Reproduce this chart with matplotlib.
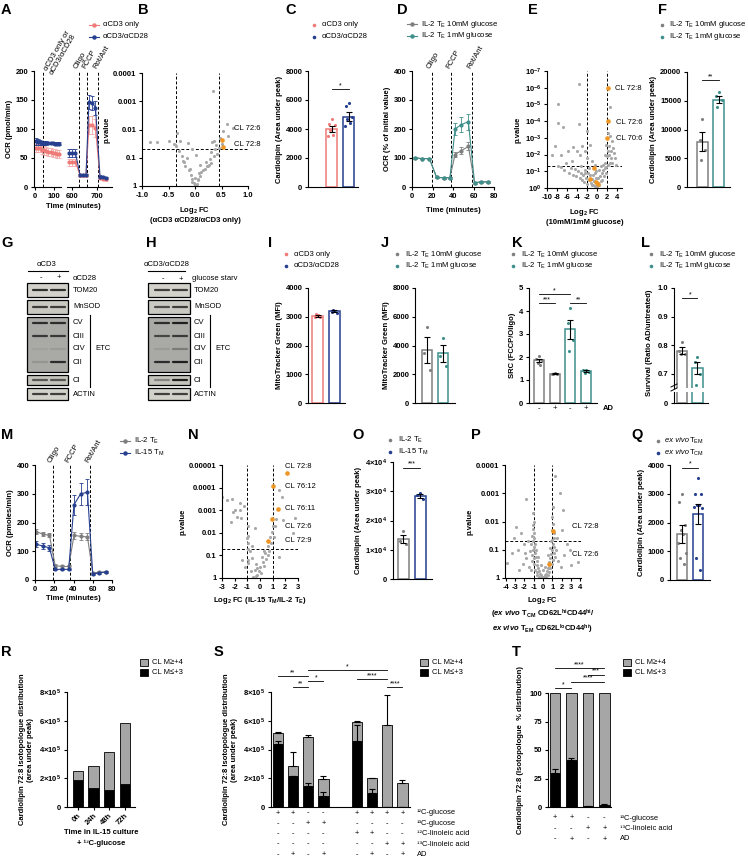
import numpy as np
import matplotlib
matplotlib.use("Agg")
import matplotlib.pyplot as plt
from matplotlib.patches import Rectangle
from matplotlib.ticker import NullLocator
from matplotlib.transforms import blended_transform_factory

W, H = 748, 859

RED = "#ee7b78"
NAVY = "#263f8f"
GREY = "#7f7f7f"
TEAL = "#3f8f8b"
LGREY = "#a8a8a8"
ORANGE = "#ef9523"
STACK = "#a6a6a6"

plt.rcParams.update({
    "font.family": ["Liberation Sans", "DejaVu Sans"],
    "font.weight": "bold",
    "font.size": 5.5,
    "mathtext.fontset": "custom",
    "mathtext.default": "regular",
    "mathtext.rm": "Liberation Sans",
    "mathtext.it": "Liberation Sans:italic:bold",
    "mathtext.bf": "Liberation Sans:bold",
    "axes.linewidth": 0.8,
    "xtick.major.width": 0.8, "ytick.major.width": 0.8,
    "xtick.major.size": 2.5, "ytick.major.size": 2.5,
    "xtick.major.pad": 1.5, "ytick.major.pad": 1.5,
    "xtick.labelsize": 5.5, "ytick.labelsize": 5.5,
    "axes.labelsize": 5.5, "axes.labelweight": "bold",
    "axes.labelpad": 2,
})

# ---------------- data ----------------
# A: Seahorse OCR, broken time axis
A_t1 = [5, 16, 27, 38, 49, 60, 71, 82, 93, 104, 115, 126]
A_red1 = [68, 68, 67, 64, 63, 62, 61, 60, 59, 58, 57, 57]
A_red1_err = [7, 7, 7, 7, 7, 7, 7, 7, 7, 7, 7, 7]
A_blue1 = [79, 78, 77, 76, 76, 76, 76, 76, 76, 75, 75, 75]
A_blue1_err = [6, 5, 4, 3, 3, 3, 2, 2, 2, 2, 2, 2]
A_t2 = [588, 601, 614, 632, 644, 656, 668, 681, 694, 712, 725, 738]
A_red2 = [43, 43, 43, 20, 20, 20, 107, 107, 102, 15, 14, 13]
A_red2_err = [6, 6, 6, 2, 2, 2, 16, 16, 16, 2, 2, 2]
A_blue2 = [58, 58, 58, 21, 21, 21, 147, 145, 137, 18, 17, 16]
A_blue2_err = [7, 7, 7, 2, 2, 2, 12, 12, 12, 2, 2, 2]

# B volcano (log2 FC, -log10 p)
B_fc = [0.34, -0.34, 0.6, 0.72, 0.53, 0.62, -0.72, -0.5, -0.28, -0.13, 0.02, -0.05, -0.15, 0.1,
        0.2, 0.3, 0.4, 0.45, 0.5, 0.35, 0.25, 0.15, -0.2, -0.25, -0.3, -0.1, 0.0, 0.05, -0.05,
        0.08, 0.12, 0.18, 0.22, 0.28, 0.3, 0.38, 0.42, -0.18, -0.22, -0.08, -0.02, 0.02, 0.06,
        -0.12, -0.35, -0.4, 0.33, 0.48, 0.26, 0.36, -0.85, 0.1, -0.06, 0.0, 0.04]
B_nlp = [3.36, 1.87, 2.2, 2.05, 1.94, 1.77, 1.56, 1.6, 1.6, 1.52, 1.1, 1.3, 1.0, 0.75,
         0.85, 1.2, 1.45, 1.35, 1.5, 1.05, 0.7, 0.55, 0.85, 1.05, 1.25, 0.6, 0.3, 0.2, 0.15,
         0.45, 0.5, 0.6, 0.7, 0.95, 0.8, 1.3, 1.15, 0.7, 0.9, 0.4, 0.1, 0.05, 0.25,
         0.55, 1.4, 1.5, 1.55, 1.7, 0.75, 1.6, 1.55, 0.35, 0.25, 0.02, 0.08]
B_cl_fc = [0.5, 0.52]
B_cl_nlp = [1.63, 1.38]

# C
C_mean = [4000, 4850]
C_sem = [180, 300]
C_red = [4700, 4350, 4300, 3900, 3600, 3500]
C_blue = [5800, 5600, 4800, 4700, 4400, 4200]

# D
D_t = [3, 10, 17, 24, 31, 37, 42, 48, 55, 61, 67, 74]
D_grey = [100, 98, 98, 33, 32, 32, 112, 125, 140, 15, 17, 18]
D_grey_err = [3, 3, 3, 3, 3, 3, 10, 12, 14, 3, 3, 3]
D_teal = [100, 98, 98, 33, 32, 32, 200, 215, 225, 15, 17, 18]
D_teal_err = [3, 3, 3, 3, 3, 3, 22, 25, 28, 3, 3, 3]

# E volcano
E_fc = [-3.6, -7.8, -7.8, -6.8, -3.6, -2.0, 2.6, 2.2, 2.6, 3.0, 3.2, 3.4, 2.8, 3.6, 1.8, 2.1,
        2.4, 1.9, 2.5, 3.0, 2.2, 1.6, 2.3, 2.7, 1.5, 3.8, -8.4, -9.0, -7.2, -5.8, -4.8, -4.0,
        -3.0, -2.5, -3.4, -2.1, -1.5, -1.0, -0.5, -6.3, -5.0, -7.9, -7.3, -6.6, -5.3, -4.4,
        -3.8, -3.2, -2.8, -2.5, -2.2, -1.9, -1.7, -1.5, -1.3, -1.1, -0.9, -0.8, -0.6, -0.4,
        -0.3, -0.1, 0.0, 0.2, 0.4, 0.5, 0.7, 0.9, 1.0, 1.2, 1.3, 1.5, 1.7, 1.8, -4.2, -3.5,
        -3.0, -2.6, -2.0, -1.0, -0.2, 0.3, 0.1, -0.5, -2.4, -1.6, -5.7, -4.8, -0.7, 0.8, 1.1,
        -3.3]
E_nlp = [6.2, 5.0, 3.9, 3.65, 3.8, 3.4, 4.85, 3.3, 3.1, 2.8, 2.4, 2.1, 1.8, 1.8, 2.6, 2.2,
         2.5, 1.9, 1.5, 1.5, 1.4, 1.5, 2.0, 2.2, 2.0, 1.4, 2.5, 2.0, 2.0, 2.2, 2.45, 2.2,
         2.5, 2.2, 2.0, 1.8, 2.6, 1.6, 1.4, 1.5, 1.6, 1.3, 1.25, 1.1, 1.2, 1.15,
         1.0, 0.9, 0.8, 1.1, 0.6, 0.9, 0.5, 0.75, 0.3, 0.55, 0.2, 0.8, 0.4, 0.1,
         0.6, 0.2, 0.05, 0.3, 0.15, 0.7, 0.4, 0.9, 0.5, 1.1, 0.7, 1.2, 0.9, 1.25, 0.7, 0.6,
         0.5, 0.35, 0.25, 0.15, 1.0, 1.1, 0.6, 0.9, 0.9, 1.2, 0.9, 0.8, 1.2, 1.3, 1.4,
         1.3]
E_cl_fc = [2.2, 2.2, 2.0, -0.6, -1.4, -0.2, 0.1]
E_cl_nlp = [6.0, 4.0, 3.0, 1.2, 0.55, 0.35, 0.25]

# F
F_mean = [7900, 15200]
F_sem = [1600, 600]
F_grey = [11800, 8200, 6500, 4700]
F_teal = [16500, 15800, 15200, 13900]

# G / H western blots: band intensity per lane (0 = none, 1 = black)
BLOT_ROWS = ["TOM20", "MnSOD", "CV", "CIII", "CIV", "CII", "CI", "ACTIN"]
G_band = [[0.85, 0.85], [0.8, 0.8], [0.85, 0.85], [0.8, 0.8], [0.25, 0.3], [0.35, 0.85], [0.7, 0.7], [0.8, 0.8]]
H_band = [[0.8, 0.8], [0.75, 0.8], [0.85, 0.9], [0.75, 0.8], [0.3, 0.5], [0.85, 0.9], [0.5, 0.9], [0.8, 0.8]]

# I, J
I_mean = [3020, 3190]
I_sem = [30, 30]
I_red = [3050, 3000, 2990, 3080]
I_blue = [3200, 3180, 3120, 3220]
J_mean = [3700, 3450]
J_sem = [900, 600]
J_grey = [5300, 3500, 2300]
J_teal = [4500, 3300, 2600]

# K
K_mean = [1.85, 1.27, 3.2, 1.38]
K_sem = [0.08, 0.02, 0.4, 0.05]
K_pts = [[2.05, 1.9, 1.85, 1.75, 1.65], [1.3, 1.27, 1.25, 1.25], [4.15, 3.5, 2.75, 2.25], [1.45, 1.45, 1.35, 1.3]]
K_ad = ["-", "+", "-", "+"]

# L
L_mean = [0.78, 0.72]
L_sem = [0.012, 0.022]
L_grey = [0.81, 0.78, 0.77, 0.77]
L_teal = [0.76, 0.74, 0.70, 0.66]

# M
M_t = [1, 8, 15, 21, 28, 35, 40.5, 47.5, 54.5, 60, 66.5, 74]
M_grey = [168, 160, 155, 50, 47, 47, 155, 152, 150, 25, 27, 28]
M_grey_err = [8, 7, 7, 5, 5, 5, 12, 12, 12, 3, 3, 3]
M_blue = [125, 118, 112, 37, 37, 37, 262, 300, 305, 20, 25, 28]
M_blue_err = [10, 10, 10, 3, 3, 3, 35, 38, 45, 3, 3, 3]

# N volcano
N_fc = [-3.0, -2.6, -2.2, -1.6, -1.3, -2.1, -1.8, -1.5, -2.3, -2.0, -0.95, -0.95, -0.95, -0.95,
        -0.95, -0.95, -0.4, -1.0, -0.65, -1.4, -1.2, -0.4, -0.2, 0.15, 0.4, 0.6, 0.8, 0.95, 1.2,
        1.3, 1.5, 1.7, 1.8, 2.75, 2.6, 1.5, -0.55, -0.1, 0.0, 0.2, 0.3, 0.5, 0.7, 0.9, -0.3,
        -0.6, -0.8, 0.1, -0.3, 0.6, 1.1, -0.2, 0.35, -0.75, 1.0, -1.6]
N_nlp = [3.6, 3.45, 3.5, 3.3, 3.2, 2.9, 2.7, 2.65, 2.5, 3.0, 2.3, 1.85, 1.55, 1.3,
         0.8, 0.65, 2.2, 1.75, 1.4, 0.8, 0.5, 0.35, 0.15, 0.95, 1.1, 1.4, 1.8, 2.05, 2.3,
         2.6, 3.9, 3.6, 2.55, 2.65, 2.0, 0.95, 0.05, 0.3, 0.5, 0.7, 0.55, 0.85, 1.2, 1.55, 0.6,
         0.9, 1.2, 0.2, 0.1, 1.0, 1.8, 0.45, 1.2, 0.3, 2.3, 3.0]
N_cl_fc = [2.1, 1.0, 1.4, 0.95, 0.65]
N_cl_nlp = [4.65, 4.07, 3.05, 2.6, 1.64]

# O
O_mean = [13700, 28500]
O_sem = [1300, 700]
O_grey = [16300, 13000, 12000]
O_blue = [29500, 28800, 27500]

# P volcano
P_fc = [1.3, 1.8, -1.8, 0.95, -1.05, -1.0, -2.4, -3.1, 2.0, 2.9, 3.8, 3.05, -3.9, -2.7, -2.0, -1.9,
        -1.2, -1.1, -1.0, -0.9, -0.8, -0.7, -0.6, -0.5, -0.4, -0.3, -0.2, -0.1, 0.0, 0.1, 0.2, 0.3,
        0.4, 0.5, 0.6, 0.7, 0.8, 0.9, 1.0, 1.1, 1.2, -1.1, -1.2, -1.0, -0.9, -1.0, -0.95, -0.85,
        -0.7, -0.6, -0.45, 0.35, 0.5, 0.65, 0.8, 0.95, 1.05, 1.15, 1.0, 0.9, 1.2, -1.3, -1.4,
        -1.15, 1.3, 1.4, -0.75, 0.75, -1.05, -0.95, 1.05, 0.95, 1.1, -1.6, -1.8, -2.2, -2.6, 1.6,
        1.9, 2.3, 2.6, -1.5, -1.25, 0.25, -0.25, 0.0, -0.55, 0.55, -3.3, 2.2, -2.9, 1.5, -1.1, 1.2]
P_nlp = [3.6, 3.0, 2.8, 2.15, 1.87, 1.6, 1.6, 1.4, 1.7, 1.0, 0.55, 0.45, 0.53, 1.0, 1.2, 0.9,
         1.5, 1.3, 1.1, 0.9, 0.75, 0.6, 0.45, 0.35, 0.25, 0.15, 0.1, 0.05, 0.02, 0.05, 0.1, 0.15,
         0.25, 0.35, 0.45, 0.55, 0.7, 0.85, 1.0, 1.2, 1.4, 1.0, 0.8, 0.7, 1.2, 1.4, 0.5, 0.3,
         0.2, 0.1, 0.05, 0.05, 0.1, 0.2, 0.35, 0.5, 0.65, 0.9, 1.35, 1.3, 1.1, 1.2, 0.95,
         0.6, 0.75, 1.0, 1.0, 1.05, 2.3, 2.0, 2.5, 1.7, 1.9, 1.3, 0.7, 0.5, 0.3, 0.6,
         0.4, 0.8, 1.2, 0.4, 0.3, 0.4, 0.45, 0.3, 0.75, 0.8, 0.9, 2.4, 1.8, 1.4, 1.75, 1.6]
P_cl_fc = [1.1, 0.7]
P_cl_nlp = [1.66, 0.5]

# Q
Q_mean = [1600, 2300]
Q_sem = [300, 350]
Q_grey = [3000, 2700, 1900, 1750, 1600, 1300, 950, 750, 550]
Q_blue = [3550, 3000, 3000, 2600, 2600, 2550, 2500, 750, 350]

# R
R_time = ["0h", "24h", "48h", "72h"]
R_low = [190e3, 130e3, 118e3, 158e3]
R_high = [60e3, 158e3, 267e3, 427e3]

# S
S_low = [440e3, 215e3, 145e3, 78e3, 460e3, 97e3, 3e3, 2e3]
S_low_err = [20e3, 0, 20e3, 25e3, 110e3, 25e3, 0, 0]
S_high = [75e3, 70e3, 340e3, 117e3, 130e3, 103e3, 567e3, 168e3]
S_tot_err = [5e3, 95e3, 15e3, 20e3, 8e3, 5e3, 210e3, 20e3]
S_cond = {"\u00b9\u00b2C-glucose": "++--++++",
          "\u00b9\u00b3C-glucose": "--++----",
          "\u00b9\u00b2C-linoleic acid": "----++--",
          "\u00b9\u00b3C-linoleic acid": "------++",
          "AD": "-+-+-+-+"}

# T
T_low = [30, 41.5, 0.5, 2]
T_low_err = [3, 1.5, 0.3, 0.5]
T_high = [70, 58.5, 99.5, 98]
T_cond = {"\u00b9\u00b3C-glucose": "++--",
          "\u00b9\u00b3C-linoleic acid": "--++",
          "AD": "-+-+"}

# ---------------- helpers ----------------
fig = plt.figure(figsize=(W / 100, H / 100), dpi=100)
ov = fig.add_axes([0, 0, 1, 1], zorder=20)
ov.set_xlim(0, W)
ov.set_ylim(H, 0)
ov.axis("off")
ov.patch.set_alpha(0)


def pax(x0, y0, x1, y1):
    ax = fig.add_axes([x0 / W, 1 - y1 / H, (x1 - x0) / W, (y1 - y0) / H])
    ax.spines["top"].set_visible(False)
    ax.spines["right"].set_visible(False)
    ax.patch.set_alpha(0)
    return ax


def txt(x, y, s, **kw):
    kw.setdefault("fontweight", "normal")
    kw.setdefault("fontsize", 5.5)
    kw.setdefault("va", "center")
    return ov.text(x, y, s, **kw)


def letter(x, y, s):
    ov.text(x, y, s, fontsize=10.5, fontweight="bold", va="center", ha="left")


def legend(x, y, entries, kind, tx, dy=11.5):
    for i, (lab, col) in enumerate(entries):
        yy = y + i * dy
        if kind == "dot":
            ov.plot([x], [yy], "o", ms=2.6, color=col, mec="none")
        elif kind == "line":
            ov.plot([x, x + 10], [yy, yy], color=col, lw=0.8)
            ov.plot([x + 5], [yy], "o", ms=2.2, color=col)
        else:
            ov.add_patch(Rectangle((x, yy - 3.5), 8, 7, facecolor=col, edgecolor="black", lw=0.6))
        if lab is not None:
            txt(x + tx, yy, lab)


JIT = [0.0, -0.17, 0.17, -0.09, 0.09, -0.22, 0.22, -0.13, 0.13]


def dotbar(ax, pos, mean, sem, pts, col, width=0.65):
    ax.bar(pos, mean, width=width, facecolor="white", edgecolor=col, linewidth=1.1, zorder=1)
    xs = pos + np.array(JIT[:len(pts)])
    ax.scatter(xs, pts, s=5, color=col, lw=0, zorder=2, clip_on=False)
    ax.errorbar(pos, mean, yerr=sem, fmt="none", ecolor="black", elinewidth=0.8,
                capsize=2.2, capthick=0.8, zorder=4)


def sig(ax, x1, x2, y, s, fs=5):
    ax.plot([x1, x2], [y, y], color="black", lw=0.6, clip_on=False)
    ax.text((x1 + x2) / 2, y, s, ha="center", va="bottom", fontsize=fs,
            fontweight="normal", clip_on=False)


def volcano(ax, fc, nlp, cfc, cnlp, vlines):
    ax.scatter(fc, 10 ** (-np.array(nlp)), s=5, color=LGREY, lw=0, zorder=2)
    ax.scatter(cfc, 10 ** (-np.array(cnlp)), s=11, color=ORANGE, lw=0, zorder=3)
    for v in vlines:
        ax.axvline(v, color="black", ls=(0, (3, 2)), lw=0.7, zorder=1)
    ax.axhline(0.05, color="black", ls=(0, (3, 2)), lw=0.7, zorder=1)
    ax.set_yscale("log")
    ax.yaxis.set_minor_locator(NullLocator())


def ocr(ax, t, y1, e1, c1, y2, e2, c2, ec1=None):
    ax.errorbar(t, y1, yerr=e1, color=c1, ecolor=ec1 or c1, marker="o", ms=2, lw=0.8,
                elinewidth=0.6, capsize=1.3, capthick=0.6)
    ax.errorbar(t, y2, yerr=e2, color=c2, marker="o", ms=2, lw=0.8,
                elinewidth=0.6, capsize=1.3, capthick=0.6)


def inj(ax, xs, labels):
    tr = ax.get_xaxis_transform()
    for x, lab in zip(xs, labels):
        ax.axvline(x, color="black", ls=(0, (3, 2)), lw=0.7, zorder=0)
        ax.text(x, 1.01, lab, transform=tr, rotation=60, rotation_mode="anchor",
                ha="left", va="bottom", fontweight="normal", fontsize=5.5)


def stacked(ax, pos, low, high, width):
    ax.bar(pos, low, width=width, color="black", edgecolor="black", lw=0.6, zorder=2)
    ax.bar(pos, high, bottom=low, width=width, color=STACK, edgecolor="black", lw=0.6, zorder=2)


# ---------------- row 1 ----------------
letter(1, 10, "A")
a1 = pax(34, 71, 61, 187)
a2 = pax(67, 71, 112, 187)
ocr(a1, A_t1, A_red1, A_red1_err, RED, A_blue1, A_blue1_err, NAVY, ec1="#f4aaa7")
ocr(a2, A_t2, A_red2, A_red2_err, RED, A_blue2, A_blue2_err, NAVY, ec1="#f4aaa7")
a1.set_xlim(-5, 137)
a1.set_xticks([0, 100])
a1.set_ylim(0, 200)
a1.set_yticks([0, 50, 100, 150, 200])
a1.set_ylabel("OCR (pmol/min)")
a2.set_xlim(580, 760)
a2.set_xticks([600, 700])
a2.set_ylim(0, 200)
a2.spines["left"].set_visible(False)
a2.set_yticks([])
a1.axvline(42, color="black", ls=(0, (3, 2)), lw=0.7)
a1.text(40, 1.02, "\u03b1CD3 only or\n\u03b1CD3/\u03b1CD28", transform=a1.get_xaxis_transform(),
        rotation=60, rotation_mode="anchor", ha="left", va="top", fontweight="normal",
        fontsize=5.5, linespacing=1.0)
inj(a2, [627, 662, 705], ["Oligo", "FCCP", "Rot/Ant"])
txt(73, 207, "Time (minutes)", ha="center", fontweight="bold")
legend(89, 25, [("\u03b1CD3 only", RED), ("\u03b1CD3/\u03b1CD28", NAVY)], "line", 14)

letter(138, 10, "B")
b = pax(142, 73, 248, 186)
volcano(b, B_fc, B_nlp, B_cl_fc, B_cl_nlp, [-0.35, 0.45])
b.set_xlim(-1, 1)
b.set_xticks([-1, -0.5, 0, 0.5, 1], ["-1.0", "-0.5", "0.0", "0.5", "1.0"])
b.set_ylim(1, 1e-4)
b.set_yticks([1, 0.1, 0.01, 0.001, 0.0001], ["1", "0.1", "0.01", "0.001", "0.0001"])
b.set_ylabel("p.value")
b.set_xlabel("Log$_2$ FC\n(\u03b1CD3 \u03b1CD28/\u03b1CD3 only)", labelpad=5)
txt(234, 128, "CL 72:6")
txt(234, 145, "CL 72:8")

letter(285, 10, "C")
c = pax(308, 71, 358, 187)
dotbar(c, 0, C_mean[0], C_sem[0], C_red, RED)
dotbar(c, 1, C_mean[1], C_sem[1], C_blue, NAVY)
c.set_xlim(-1.4, 1.55)
c.set_xticks([])
c.set_ylim(0, 8000)
c.set_yticks([0, 2000, 4000, 6000, 8000])
c.set_ylabel("Cardiolipin (Area under peak)")
sig(c, 0, 1, 6750, "*")
legend(314, 25, [("\u03b1CD3 only", RED), ("\u03b1CD3/\u03b1CD28", NAVY)], "dot", 8)

letter(397, 10, "D")
d = pax(412, 71, 494, 187)
ocr(d, D_t, D_grey, D_grey_err, GREY, D_teal, D_teal_err, TEAL)
d.set_xlim(0, 80)
d.set_xticks([0, 20, 40, 60, 80])
d.set_ylim(0, 400)
d.set_yticks([0, 100, 200, 300, 400])
d.set_ylabel("OCR (% of initial value)")
d.set_xlabel("Time (minutes)", labelpad=5)
inj(d, [19.5, 38.5, 59], ["Oligo", "FCCP", "Rot/Ant"])
legend(407, 24, [("IL-2 T$_E$ 10mM glucose", GREY), ("IL-2 T$_E$ 1mM glucose", TEAL)], "line", 14)

letter(528, 10, "E")
e = pax(547, 71, 622, 188)
volcano(e, E_fc, E_nlp, E_cl_fc, E_cl_nlp, [-2, 2])
e.set_xlim(-10, 5)
e.set_xticks([-10, -8, -6, -4, -2, 0, 2, 4], ["-10", "-8", "-6", "-4", "-2", "0", "2", "4"])
e.set_ylim(1, 1e-7)
e.set_yticks([10.0 ** -k for k in range(8)], ["10$^{%d}$" % (-k) if k else "10$^{0}$" for k in range(8)])
e.set_ylabel("p.value")
e.set_xlabel("Log$_2$ FC\n(10mM/1mM glucose)", labelpad=5)
txt(615, 89, "CL 72:8")
txt(616, 122, "CL 72:6")
txt(616, 139, "CL 70:6")

letter(658, 10, "F")
f = pax(687, 72, 730, 187)
dotbar(f, 0, F_mean[0], F_sem[0], F_grey, GREY, width=0.67)
dotbar(f, 1, F_mean[1], F_sem[1], F_teal, TEAL, width=0.67)
f.set_xlim(-0.94, 1.67)
f.set_xticks([])
f.set_ylim(0, 20000)
f.set_yticks([0, 5000, 10000, 15000, 20000])
f.set_ylabel("Cardiolipin (Area under peak)")
sig(f, 0, 1, 18600, "**")
legend(662, 25, [("IL-2 T$_E$ 10mM glucose", GREY), ("IL-2 T$_E$ 1mM glucose", TEAL)], "dot", 7)

# ---------------- row 2: blots ----------------
ROW_BOX = [(283, 297), (300, 314), (317, 372), (375, 385), (388, 400)]
ROW_Y = [290, 307, 323, 336, 349, 362, 380, 394]
ROW_BG = ["#d2d2cb", "#c9c9c2", "#a9a9a6", "#c4c4bd", "#d2d2cb"]


def blot(x0, x1, lanes, bands, labx, etcx):
    for (yt, yb), bg in zip(ROW_BOX, ROW_BG):
        ov.add_patch(Rectangle((x0, yt), x1 - x0, yb - yt, facecolor=bg, edgecolor="black", lw=0.9))
    for name, yy, inten in zip(BLOT_ROWS, ROW_Y, bands):
        for cx, v in zip(lanes, inten):
            g = 1 - v
            ov.plot([cx - 7, cx + 7], [yy, yy], color=(g * 0.8, g * 0.8, g * 0.8), lw=1.6,
                    solid_capstyle="round", alpha=0.35 + 0.65 * v)
        txt(labx, yy, name)
    ov.plot([etcx, etcx], [315, 387], color="black", lw=0.8)
    txt(etcx + 5, 349, "ETC")


letter(1, 243, "G")
blot(27, 68, [40, 58], G_band, 73, 90)
txt(47, 265, "\u03b1CD3", ha="center")
ov.plot([28, 68], [271, 271], color="black", lw=0.8)
txt(41, 278, "-", ha="center")
txt(59, 278, "+", ha="center")
txt(73, 278, "\u03b1CD28")

letter(146, 243, "H")
blot(148, 190, [162, 180], H_band, 194, 210)
txt(167, 264, "\u03b1CD3/\u03b1CD28", ha="center")
ov.plot([148, 185], [271, 271], color="black", lw=0.8)
txt(163, 279, "-", ha="center")
txt(181, 279, "+", ha="center")
txt(192, 279, "glucose starv")

# ---------------- row 2: bar panels ----------------
letter(268, 243, "I")
ai = pax(308, 288, 345, 403)
dotbar(ai, 0, I_mean[0], I_sem[0], I_red, RED)
dotbar(ai, 1, I_mean[1], I_sem[1], I_blue, NAVY)
ai.set_xlim(-0.56, 1.62)
ai.set_xticks([])
ai.set_ylim(0, 4000)
ai.set_yticks([0, 1000, 2000, 3000, 4000])
ai.set_ylabel("MitoTracker Green (MFI)")
legend(286, 254, [("\u03b1CD3 only", RED), ("\u03b1CD3/\u03b1CD28", NAVY)], "dot", 8)

letter(381, 243, "J")
aj = pax(415, 288, 455, 403)
dotbar(aj, 0, J_mean[0], J_sem[0], J_grey, GREY)
dotbar(aj, 1, J_mean[1], J_sem[1], J_teal, TEAL)
aj.set_xlim(-0.75, 1.75)
aj.set_xticks([])
aj.set_ylim(0, 8000)
aj.set_yticks([0, 2000, 4000, 6000, 8000])
aj.set_ylabel("MitoTracker Green (MFI)")
legend(397, 254, [("IL-2 T$_E$ 10mM glucose", GREY), ("IL-2 T$_E$ 1mM glucose", TEAL)], "dot", 8)

letter(512, 243, "K")
ak = pax(529, 288, 597, 403)
K_col = [GREY, GREY, TEAL, TEAL]
for i in range(4):
    dotbar(ak, i, K_mean[i], K_sem[i], K_pts[i], K_col[i], width=0.64)
ak.set_xlim(-0.64, 3.7)
ak.set_xticks(range(4), K_ad, fontweight="normal")
ak.tick_params(axis="x", length=0)
ak.set_ylim(0, 5)
ak.set_yticks([0, 1, 2, 3, 4, 5])
ak.set_ylabel("SRC (FCCP/Oligo)")
sig(ak, 0, 1, 4.35, "***")
sig(ak, 2, 3, 4.35, "**")
sig(ak, 0, 2, 4.72, "*")
txt(603, 409, "AD", fontweight="bold")
legend(513, 254, [("IL-2 T$_E$ 10mM glucose", GREY), ("IL-2 T$_E$ 1mM glucose", TEAL)], "dot", 8)

letter(641, 243, "L")
lu = pax(674, 288, 708, 388)
ll = pax(674, 392, 708, 403)
for ax in (lu, ll):
    dotbar(ax, 0, L_mean[0], L_sem[0], L_grey, GREY)
    dotbar(ax, 1, L_mean[1], L_sem[1], L_teal, TEAL)
    ax.set_xlim(-0.52, 1.68)
    ax.set_xticks([])
for coll in ll.collections:
    coll.set_visible(False)
lu.set_ylim(0.65, 1.0)
lu.set_yticks([0.7, 0.8, 0.9, 1.0], ["0.7", "0.8", "0.9", "1.0"])
lu.spines["bottom"].set_visible(False)
ll.set_ylim(0, 0.04)
ll.set_yticks([0])
lu.set_ylabel("Survival (Ratio AD/untreated)")
lu.yaxis.set_label_coords(-0.62, 0.45)
sig(lu, 0, 1, 0.965, "*")
ov.plot([671, 677], [387, 384], color="black", lw=0.7)
ov.plot([671, 677], [391, 388], color="black", lw=0.7)
legend(651, 254, [("IL-2 T$_E$ 10mM glucose", GREY), ("IL-2 T$_E$ 1mM glucose", TEAL)], "dot", 8)

# ---------------- row 3 ----------------
letter(1, 435, "M")
m = pax(35, 465, 112, 580)
ocr(m, M_t, M_grey, M_grey_err, GREY, M_blue, M_blue_err, NAVY)
m.set_xlim(0, 80)
m.set_xticks([0, 20, 40, 60, 80])
m.set_ylim(0, 400)
m.set_yticks([0, 100, 200, 300, 400])
m.set_ylabel("OCR (pmoles/min)")
m.set_xlabel("Time (minutes)", labelpad=2)
inj(m, [18.7, 36.4, 57], ["Oligo", "FCCP", "Rot/Ant"])
legend(120, 441, [("IL-2 T$_E$", GREY), ("IL-15 T$_M$", NAVY)], "line", 14)

letter(188, 435, "N")
n = pax(222, 465, 298, 578)
volcano(n, N_fc, N_nlp, N_cl_fc, N_cl_nlp, [-1, 1])
n.set_xlim(-3, 3)
n.set_xticks([-3, -2, -1, 0, 1, 2, 3], ["-3", "-2", "-1", "0", "1", "2", "3"])
n.set_ylim(1, 1e-5)
n.set_yticks([1, 0.1, 0.01, 0.001, 0.0001, 0.00001], ["1", "0.1", "0.01", "0.001", "0.0001", "0.00001"])
n.set_ylabel("p.value")
n.set_xlabel("Log$_2$ FC (IL-15 T$_M$/IL-2 T$_E$)", labelpad=3)
for yy, lab in zip([466, 486, 509, 527, 541], ["CL 72:8", "CL 76:12", "CL 76:11", "CL 72:6", "CL 72:9"]):
    txt(285, yy, lab)

letter(352, 435, "O")
o = pax(393, 462, 432, 579)
dotbar(o, 0, O_mean[0], O_sem[0], O_grey, GREY)
dotbar(o, 1, O_mean[1], O_sem[1], O_blue, NAVY)
o.set_xlim(-0.59, 1.7)
o.set_xticks([])
o.set_ylim(0, 40000)
o.set_yticks([0, 1e4, 2e4, 3e4, 4e4], ["0", "1\u00d710$^4$", "2\u00d710$^4$", "3\u00d710$^4$", "4\u00d710$^4$"])
o.set_ylabel("Cardiolipin (Area under peak)")
sig(o, 0, 1, 38000, "***")
legend(390, 440, [("IL-2 T$_E$", GREY), ("IL-15 T$_M$", NAVY)], "dot", 8)

letter(471, 435, "P")
p = pax(505, 465, 581, 578)
volcano(p, P_fc, P_nlp, P_cl_fc, P_cl_nlp, [-1, 1])
p.set_xlim(-4.1, 4.1)
p.set_xticks(range(-4, 5), [str(k) for k in range(-4, 5)])
p.set_ylim(1, 1e-4)
p.set_yticks([1, 0.1, 0.01, 0.001, 0.0001], ["1", "0.1", "0.01", "0.001", "0.0001"])
p.set_ylabel("p.value")
p.set_xlabel("Log$_2$ FC\n($\\mathit{ex\\ vivo}$ T$_{CM}$ CD62L$^{hi}$CD44$^{hi}$/\n"
             "$\\mathit{ex\\ vivo}$ T$_{EM}$ CD62L$^{lo}$CD44$^{hi}$)", labelpad=3, linespacing=1.2)
txt(572, 527, "CL 72:8")
txt(572, 554, "CL 72:6")

letter(631, 435, "Q")
q = pax(670, 465, 710, 580)
dotbar(q, 0, Q_mean[0], Q_sem[0], Q_grey, GREY)
dotbar(q, 1, Q_mean[1], Q_sem[1], Q_blue, NAVY)
q.set_xlim(-0.75, 1.75)
q.set_xticks([])
q.set_ylim(0, 4000)
q.set_yticks([0, 1000, 2000, 3000, 4000])
q.set_ylabel("Cardiolipin (Area under peak)")
sig(q, 0, 1, 3900, "*")
legend(658, 441, [(None, GREY), (None, NAVY)], "dot", 7)
for yy, sub in zip([441, 452.5], ["EM", "CM"]):
    txt(665, yy, "ex vivo", fontstyle="italic")
    txt(689, yy, "T$_{%s}$" % sub)

# ---------------- row 4 ----------------
R_LEG = [("CL M\u2265+4", STACK), ("CL M\u2264+3", "black")]

letter(1, 652, "R")
r = pax(67, 692, 135, 807)
stacked(r, np.arange(4), R_low, R_high, 0.67)
r.set_xlim(-0.7, 3.65)
r.set_xticks(range(4), R_time, rotation=45, ha="right", rotation_mode="anchor")
r.set_ylim(0, 8e5)
r.set_yticks([0, 2e5, 4e5, 6e5, 8e5], ["0", "2\u00d710$^5$", "4\u00d710$^5$", "6\u00d710$^5$", "8\u00d710$^5$"])
r.set_ylabel("Cardiolipin 72:8 Isotopologue distribution\n(area under peak)", labelpad=4)
txt(101, 832, "Time in IL-15 culture", ha="center", fontweight="bold")
txt(101, 843, "+ \u00b9\u00b3C-glucose", ha="center", fontweight="bold")
legend(140, 662, R_LEG, "square", 12, dy=10.5)

letter(214, 652, "S")
s = pax(271, 692, 410, 807)
S_pos = np.array([0, 1, 2, 3, 5.2, 6.2, 7.2, 8.2])
stacked(s, S_pos, S_low, S_high, 0.68)
tot = np.array(S_low) + np.array(S_high)
s.errorbar(S_pos, tot, yerr=[np.zeros(8), S_tot_err], fmt="none", ecolor="black",
           elinewidth=0.8, capsize=2.2, capthick=0.8, zorder=3)
s.errorbar(S_pos, S_low, yerr=[np.zeros(8), S_low_err], fmt="none", ecolor="black",
           elinewidth=0.8, capsize=2.2, capthick=0.8, zorder=3)
s.set_xlim(-0.45, 8.7)
s.set_xticks([])
s.set_ylim(0, 8e5)
s.set_yticks([0, 2e5, 4e5, 6e5, 8e5], ["0", "2\u00d710$^5$", "4\u00d710$^5$", "6\u00d710$^5$", "8\u00d710$^5$"])
s.set_ylabel("Cardiolipin 72:8 Isotopologue distribution\n(area under peak)", labelpad=4)
sig(s, 0, 2, 911e3, "**")
sig(s, 2, 7.2, 953e3, "*")
sig(s, 1, 2, 835e3, "**")
sig(s, 2, 3, 877e3, "*")
sig(s, 5.2, 7.2, 890e3, "****")
sig(s, 7.2, 8.2, 835e3, "****")
trs = blended_transform_factory(s.transData, ov.transData)
for k, (lab, signs) in enumerate(S_cond.items()):
    yy = 813 + k * 10.4
    for xp, sgn in zip(S_pos, signs):
        s.text(xp, yy, sgn, transform=trs, ha="center", va="center", fontweight="normal",
               fontsize=5.4, clip_on=False)
    txt(417, yy, lab, fontsize=5.4)
legend(420, 662, R_LEG, "square", 12, dy=10.5)

letter(512, 652, "T")
t = pax(548, 693, 611, 807)
T_pos = np.arange(4)
stacked(t, T_pos, T_low, T_high, 0.62)
t.errorbar(T_pos, T_low, yerr=[np.zeros(4), T_low_err], fmt="none", ecolor="black",
           elinewidth=0.8, capsize=2.2, capthick=0.8, zorder=3)
t.set_xlim(-0.42, 3.4)
t.set_xticks([])
t.set_ylim(0, 100)
t.set_yticks([0, 25, 50, 75, 100])
t.set_ylabel("Cardiolipin 72:8 (Isotopologue  % distribution)", labelpad=4)
sig(t, 0, 3, 122, "****")
sig(t, 2, 3, 116, "***")
sig(t, 1, 3, 110, "****")
sig(t, 0, 1, 104, "*")
trt = blended_transform_factory(t.transData, ov.transData)
for k, (lab, signs) in enumerate(T_cond.items()):
    yy = 818 + k * 10.5
    for xp, sgn in zip(T_pos, signs):
        t.text(xp, yy, sgn, transform=trt, ha="center", va="center", fontweight="normal",
               fontsize=5.4, clip_on=False)
    txt(620, yy, lab, fontsize=5.4)
legend(623, 662, R_LEG, "square", 12, dy=10.5)

fig.savefig("out.png", dpi=100, facecolor="white")
